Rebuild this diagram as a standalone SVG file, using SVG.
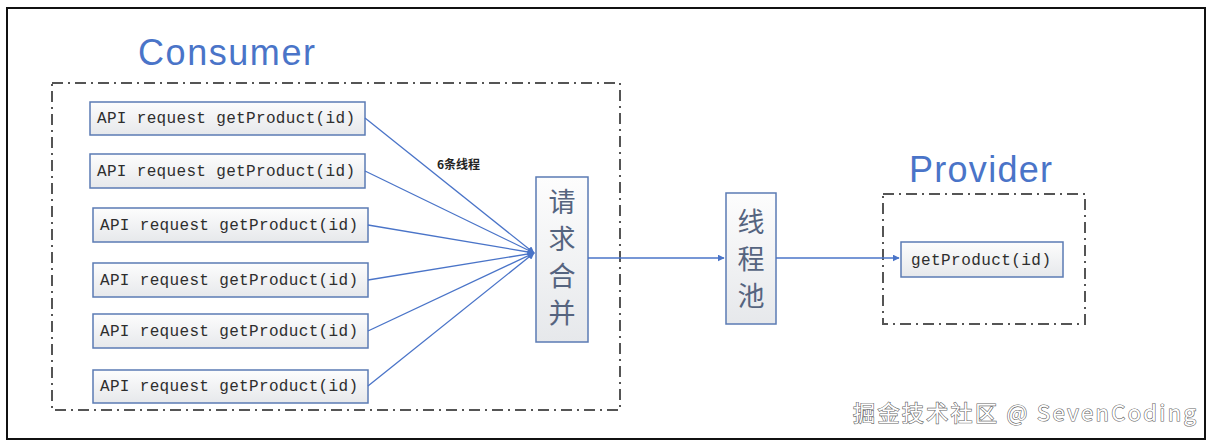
<svg xmlns="http://www.w3.org/2000/svg" width="1211" height="446" viewBox="0 0 1211 446">
<style>
.title{font-family:"Liberation Sans","Noto Sans",sans-serif;font-size:36px;fill:#4a74c8}
.group{fill:none;stroke:#555;stroke-width:2;stroke-dasharray:11 5 2 5}
.api{fill:url(#g);stroke:#5b7bb4;stroke-width:1.5}
.mono{font-family:"Liberation Mono","DejaVu Sans Mono",monospace;font-size:16px;fill:#2e2e2e}
.cjk{font-family:"Noto Sans CJK SC",sans-serif;font-size:27px;fill:#55647f;text-anchor:middle}
.conn{fill:none;stroke:#4a74c8;stroke-width:1.3}
</style>
<defs>
<linearGradient id="g" x1="0" y1="0" x2="0" y2="1">
<stop offset="0" stop-color="#fdfdfd"/><stop offset="1" stop-color="#e6e8eb"/>
</linearGradient>
<marker id="arr" viewBox="0 0 10 10" refX="9" refY="5" markerWidth="7" markerHeight="7" orient="auto" markerUnits="userSpaceOnUse">
<path d="M0,0 L10,5 L0,10 z" fill="#4a74c8"/>
</marker>
</defs>
<rect x="0" y="0" width="1211" height="446" fill="#fff"/>
<rect x="7" y="8" width="1198" height="431" fill="#fff" stroke="#111" stroke-width="2"/>

<g id="consumer">
<text class="title" x="138" y="65" textLength="177">Consumer</text>
<rect class="group" x="52" y="83" width="568" height="327"/>
</g>
<g id="provider">
<text class="title" x="909" y="182" textLength="143">Provider</text>
<rect class="group" x="883" y="194" width="202" height="130"/>
</g>

<g id="api1"><rect class="api" x="90" y="102" width="275" height="33"/><text class="mono" x="97" y="123" textLength="258">API request getProduct(id)</text></g>
<g id="api2"><rect class="api" x="90" y="154" width="275" height="34"/><text class="mono" x="97" y="176" textLength="258">API request getProduct(id)</text></g>
<g id="api3"><rect class="api" x="93" y="208" width="275" height="34"/><text class="mono" x="100" y="230" textLength="258">API request getProduct(id)</text></g>
<g id="api4"><rect class="api" x="93" y="263" width="275" height="34"/><text class="mono" x="100" y="285" textLength="258">API request getProduct(id)</text></g>
<g id="api5"><rect class="api" x="93" y="314" width="275" height="34"/><text class="mono" x="100" y="336" textLength="258">API request getProduct(id)</text></g>
<g id="api6"><rect class="api" x="93" y="370" width="275" height="33"/><text class="mono" x="100" y="391" textLength="258">API request getProduct(id)</text></g>

<g id="merge">
<rect class="api" x="536" y="177" width="52" height="165"/>
<text class="cjk"><tspan x="562" y="212">请</tspan><tspan x="562" y="249">求</tspan><tspan x="562" y="286">合</tspan><tspan x="562" y="323">并</tspan></text>
</g>
<g id="pool">
<rect class="api" x="726" y="193" width="50" height="131"/>
<text class="cjk"><tspan x="751" y="232">线</tspan><tspan x="751" y="269">程</tspan><tspan x="751" y="306">池</tspan></text>
</g>
<g id="getproduct">
<rect class="api" x="901" y="242" width="162" height="35"/>
<text class="mono" x="911" y="265" textLength="140">getProduct(id)</text>
</g>

<g id="connectors">
<line class="conn" x1="365" y1="118" x2="534" y2="253" marker-end="url(#arr)"/>
<line class="conn" x1="365" y1="171" x2="534" y2="253" marker-end="url(#arr)"/>
<line class="conn" x1="368" y1="225" x2="534" y2="253" marker-end="url(#arr)"/>
<line class="conn" x1="368" y1="280" x2="534" y2="253" marker-end="url(#arr)"/>
<line class="conn" x1="368" y1="331" x2="534" y2="253" marker-end="url(#arr)"/>
<line class="conn" x1="368" y1="386" x2="534" y2="253" marker-end="url(#arr)"/>
<text x="437" y="169" font-family="Noto Sans CJK SC,sans-serif" font-size="12" font-weight="bold" fill="#222">6条线程</text>
<line class="conn" x1="588" y1="258" x2="724" y2="258" marker-end="url(#arr)"/>
<line class="conn" x1="776" y1="258" x2="899" y2="258" marker-end="url(#arr)"/>
</g>

<text x="853" y="421" font-family="Noto Sans CJK SC,sans-serif" font-size="22" fill="#fff" stroke="#666" stroke-width="1.2" paint-order="stroke" textLength="343">掘金技术社区 @ SevenCoding</text>
</svg>
